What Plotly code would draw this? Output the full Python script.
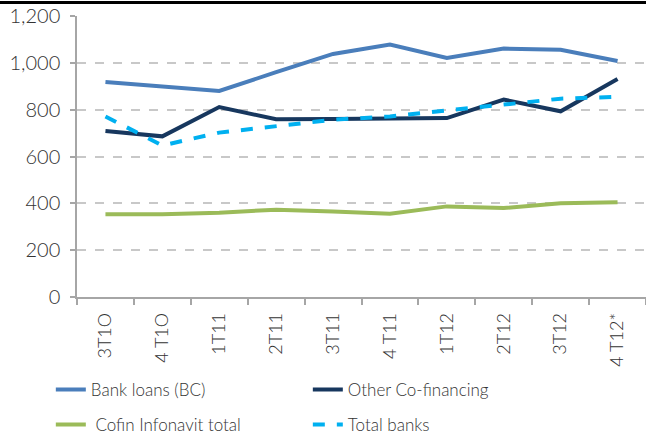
import plotly.graph_objects as go

quarters = ["3T1O", "4 T1O", "1T11", "2T11", "3T11", "4 T11", "1T12", "2T12", "3T12", "4 T12*"]
bank_loans = [918, 900, 880, 960, 1038, 1078, 1021, 1061, 1056, 1008]
other_cofin = [709, 686, 811, 759, 760, 764, 764, 843, 793, 931]
cofin_infonavit = [353, 353, 360, 373, 365, 356, 387, 380, 400, 405]
total_banks = [771, 647, 702, 729, 757, 771, 797, 823, 847, 855]

FONT = "Lato, Roboto, sans-serif"
TEXT = "#333333"
AXIS = "#a6a6a6"

fig = go.Figure()
fig.add_trace(go.Scatter(x=quarters, y=bank_loans, mode="lines", name="Bank loans (BC)",
                         line=dict(color="#4a7ebb", width=4), legend="legend"))
fig.add_trace(go.Scatter(x=quarters, y=other_cofin, mode="lines", name="Other Co-financing",
                         line=dict(color="#17375e", width=4), legend="legend"))
fig.add_trace(go.Scatter(x=quarters, y=cofin_infonavit, mode="lines", name=" Cofin Infonavit total",
                         line=dict(color="#9bbb59", width=4), legend="legend2"))
fig.add_trace(go.Scatter(x=quarters, y=total_banks, mode="lines", name="Total banks",
                         line=dict(color="#00b0f0", width=4, dash="dash"), legend="legend2"))

legend_style = dict(
    orientation="h", xanchor="left", yanchor="middle", x=-0.046,
    entrywidth=212, entrywidthmode="pixels", itemwidth=30,
    font=dict(family=FONT, size=17, color=TEXT, weight=300), bgcolor="rgba(0,0,0,0)",
)

fig.update_layout(
    width=646, height=443,
    margin=dict(l=77, r=0, t=16, b=146),
    paper_bgcolor="white", plot_bgcolor="white",
    font=dict(family=FONT, color=TEXT, weight=300),
    legend=dict(legend_style, y=-0.331),
    legend2=dict(legend_style, y=-0.455),
)
# black rule along the top edge of the picture
fig.add_annotation(
    x=-77 / 569, y=1 + 15.5 / 281, xref="paper", yref="paper", xanchor="left", yanchor="top",
    text=" ", showarrow=False, bgcolor="black", width=646, height=3,
    borderpad=0, borderwidth=0, font=dict(size=1),
)
fig.update_xaxes(
    type="category", range=[-0.5, 9.5], tickangle=-90,
    showline=True, linecolor=AXIS, linewidth=1.5,
    ticks="outside", tickson="boundaries", ticklen=6, tickcolor=AXIS, tickwidth=1.5,
    ticklabelstandoff=7,
    showgrid=False, tickfont=dict(family=FONT, size=18, color=TEXT, weight=300),
)
fig.update_yaxes(
    range=[0, 1200], dtick=200, tickformat=",",
    showline=True, linecolor=AXIS, linewidth=1.5,
    ticks="outside", ticklen=5, tickcolor=AXIS, tickwidth=1.5,
    ticklabelstandoff=6,
    showgrid=True, gridcolor="#c8c8c8", gridwidth=1.5, griddash="dash",
    zeroline=False, tickfont=dict(family=FONT, size=20, color=TEXT, weight=300),
)

fig.write_html("out.html", config={"displayModeBar": False},
               post_script="document.body.style.margin='0';")
